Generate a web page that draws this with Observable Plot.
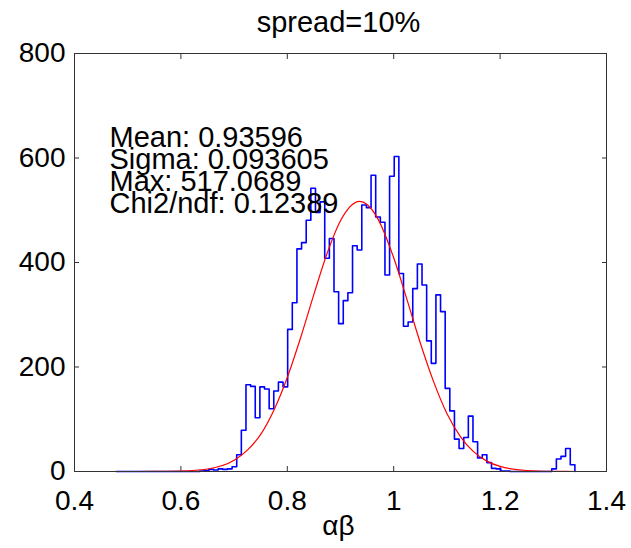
<!DOCTYPE html>
<html>
<head>
<meta charset="utf-8">
<script src="https://cdn.jsdelivr.net/npm/d3@7"></script>
<script src="https://cdn.jsdelivr.net/npm/@observablehq/plot@0.6"></script>
<style>
  html, body { margin: 0; padding: 0; background: #fff; }
</style>
</head>
<body>
<div id="chart"></div>
<script>
// ---- data ----
const titleText = "spread=10%";
const xLabel = "αβ";
const xTicks = [0.4, 0.6, 0.8, 1.0, 1.2, 1.4];
const xTickLabels = ["0.4", "0.6", "0.8", "1", "1.2", "1.4"];
const yTicks = [0, 200, 400, 600, 800];
const yTickLabels = ["0", "200", "400", "600", "800"];

// histogram: 100 bins, first bin centre and bin width
const binStart = 0.4785;
const binWidth = 0.008708;
const counts = [
  0,0,0,0,0,0,0,0,0,0,0,0,0,0,0,0,0,0,
  1,2,4,3,5,4,5,
  9,32,79,166,163,103,162,158,120,154,171,162,
  272,323,426,438,481,542,496,516,408,446,344,283,327,342,432,424,
  510,505,567,487,477,376,565,603,379,278,286,350,397,357,
  250,207,338,306,159,116,62,44,65,106,57,26,32,17,6,5,1,1,
  0,0,0,0,0,0,0,0,0,
  5,24,29,44,13,0
];

// fitted curve
const fitX = [0.4785, 0.55, 0.60, 0.65, 0.70, 0.725, 0.75, 0.775, 0.80, 0.825, 0.85, 0.875, 0.90, 0.936, 0.95, 0.97, 1.00, 1.025, 1.05, 1.075, 1.10, 1.125, 1.15, 1.175, 1.20, 1.25, 1.30, 1.3406];
const fitY = [0, 0.1, 0.8, 4.8, 21.5, 40.9, 71, 117.8, 180, 256, 339, 418, 480, 517, 511, 484, 409, 329, 246, 172, 111, 67.4, 38, 19.9, 9.7, 1.9, 0.3, 0];

const statLines = ["Mean: 0.93596", "Sigma: 0.093605", "Max: 517.0689", "Chi2/ndf: 0.12389"];

// ---- tables for the library ----
const hist = counts.map((c, k) => ({x: binStart + k * binWidth, y: c}));
const fit = fitX.map((x, i) => ({x, y: fitY[i]}));
const xFmt = new Map(xTicks.map((t, i) => [t, xTickLabels[i]]));
const yFmt = new Map(yTicks.map((t, i) => [t, yTickLabels[i]]));

const axisColor = "#333";

const chart = Plot.plot({
  width: 631,
  height: 548,
  marginLeft: 74,
  marginRight: 25,
  marginTop: 53,
  marginBottom: 77,
  style: {fontFamily: "'Liberation Sans', Arial, sans-serif", background: "#fff", color: "#000"},
  x: {domain: [0.4, 1.4]},
  y: {domain: [0, 800]},
  marks: [
    Plot.axisX({anchor: "bottom", ticks: xTicks, tickFormat: d => xFmt.get(d), tickSize: -5, tickPadding: 24, fontSize: 28, stroke: axisColor, label: null}),
    Plot.axisX({anchor: "top", ticks: xTicks, tickFormat: () => "", tickSize: -5, stroke: axisColor, label: null}),
    Plot.axisY({anchor: "left", ticks: yTicks, tickFormat: d => yFmt.get(d), tickSize: -5, tickPadding: 14, fontSize: 28, stroke: axisColor, label: null}),
    Plot.axisY({anchor: "right", ticks: yTicks, tickFormat: () => "", tickSize: -5, stroke: axisColor, label: null}),
    Plot.line(hist, {x: "x", y: "y", curve: "step-after", stroke: "#0000ff", strokeWidth: 1.6}),
    Plot.line(fit, {x: "x", y: "y", curve: "monotone-x", stroke: "#ff0000", strokeWidth: 1.2}),
    Plot.frame({stroke: axisColor, strokeWidth: 1}),
    Plot.text([statLines.join("\n")], {frameAnchor: "top-left", dx: 35, dy: 78, lineAnchor: "top", textAnchor: "start", lineHeight: 0.755, fontSize: 29, fill: "#000"}),
    Plot.text([titleText], {frameAnchor: "top", dx: -2, dy: -31, lineAnchor: "middle", fontSize: 29, fill: "#000"}),
    Plot.text([xLabel], {frameAnchor: "bottom", dx: -2, dy: 55, lineAnchor: "middle", fontSize: 28, fill: "#000"})
  ]
});
document.getElementById("chart").appendChild(chart);
</script>
</body>
</html>
